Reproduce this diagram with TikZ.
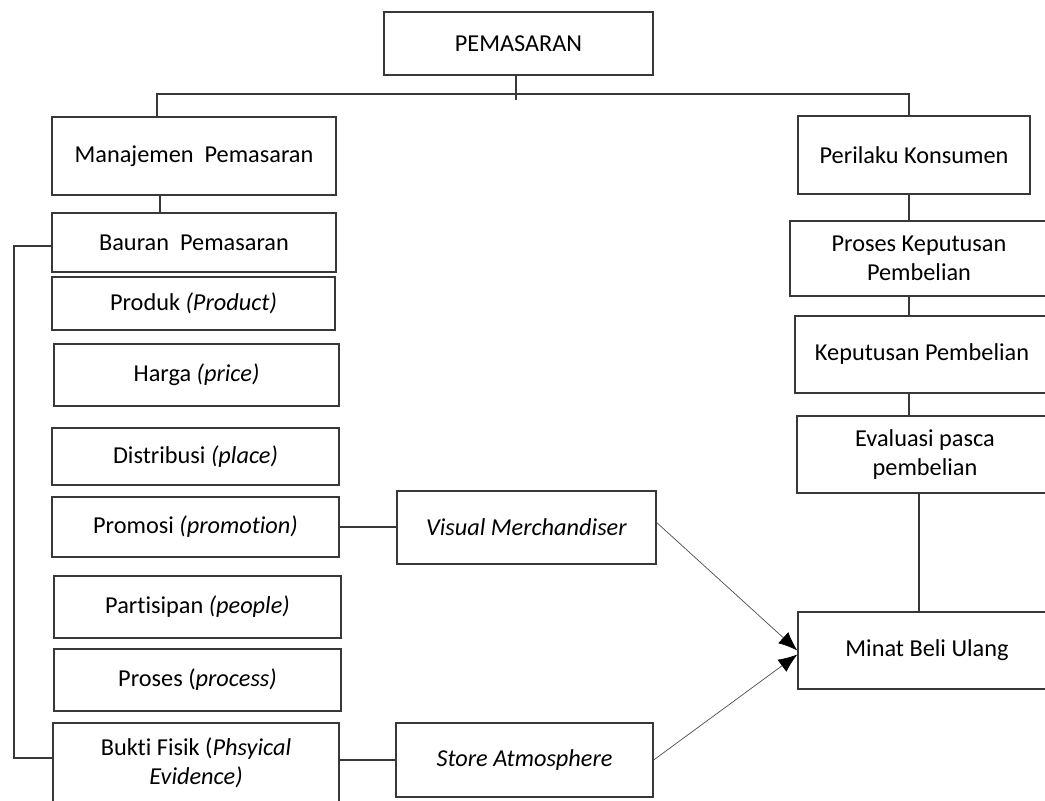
\documentclass[tikz,border=0pt]{standalone}
\usepackage{fontspec}
\setmainfont{Carlito}[Ligatures={NoCommon}]
\usetikzlibrary{arrows.meta}
\begin{document}
\begin{tikzpicture}[x=1pt,y=-1pt,
  box/.style={draw=black!78,line width=1.3pt,rectangle,inner sep=0pt,align=center,
    font=\fontsize{24.3}{28.5}\selectfont},
  link/.style={draw=black!78,line width=1.3pt},
  arr/.style={draw=black!70,line width=0.7pt,-{Latex[length=19pt,width=15pt,color=black]}}]
\useasboundingbox (0,0) rectangle (1045,801);
\clip (0,0) rectangle (1045,801);
% nodes
\node[box,minimum width=269pt,minimum height=63pt] (pem) at (518.5,43.5) {PEMASARAN};
\node[box,minimum width=284pt,minimum height=78pt] (man) at (194,156) {Manajemen~ Pemasaran};
\node[box,minimum width=284pt,minimum height=59pt] (bau) at (194,242.5) {Bauran~ Pemasaran};
\node[box,minimum width=283pt,minimum height=53pt] (prod) at (193.5,303.5) {Produk \textit{(Product)}};
\node[box,minimum width=285pt,minimum height=62pt] (harga) at (196.5,375) {Harga \textit{(price)}};
\node[box,minimum width=287pt,minimum height=57pt] (dist) at (195.5,456.5) {Distribusi \textit{(place)}};
\node[box,minimum width=287pt,minimum height=60pt] (prom) at (195.5,527) {Promosi \textit{(promotion)}};
\node[box,minimum width=287pt,minimum height=62pt] (part) at (197.5,607) {Partisipan \textit{(people)}};
\node[box,minimum width=287pt,minimum height=62pt] (pros) at (197.5,680) {Proses (\textit{process)}};
\node[box,minimum width=286pt,minimum height=80pt] (bukti) at (196,763) {Bukti Fisik (\textit{Phsyical}\\\textit{Evidence)}};
\node[box,minimum width=259pt,minimum height=73pt] (visual) at (526.5,527.5) {\textit{Visual Merchandiser}};
\node[box,minimum width=257pt,minimum height=74pt] (store) at (524.5,760) {\textit{Store Atmosphere}};
\node[box,minimum width=232pt,minimum height=78pt] (per) at (914,155) {Perilaku Konsumen};
\node[box,minimum width=258pt,minimum height=75pt] (pkp) at (919,258.5) {Proses Keputusan\\Pembelian};
\node[box,minimum width=254pt,minimum height=77pt] (kp) at (922,354.5) {Keputusan Pembelian};
\node[box,minimum width=256pt,minimum height=77pt] (eval) at (925,454.5) {Evaluasi pasca\\pembelian};
\node[box,minimum width=258pt,minimum height=77pt] (minat) at (927,650.5) {Minat Beli Ulang};
% coordinates
\coordinate (hl) at (157,94);
\coordinate (hr) at (909,94);
\coordinate (tk) at (516,100);
\coordinate (cm) at (160,200);
\coordinate (br1) at (14,246);
\coordinate (br2) at (14,758);
\coordinate (cr) at (909,200);
\coordinate (ce) at (919,500);
% connectors
\draw[link] (man.north -| hl) -- (hl) -- (hr) -- (per.north -| hr);
\draw[link] (pem.south -| tk) -- (tk);
\draw[link] (man.south -| cm) -- (bau.north -| cm);
\draw[link] (bau.west |- br1) -- (br1) -- (br2) -- (bukti.west |- br2);
\draw[link] (prom.east) -- (prom.east -| visual.west);
\draw[link] (store.west -| bukti.east) -- (store.west);
\draw[link] (per.south -| cr) -- (pkp.north -| cr);
\draw[link] (pkp.south -| cr) -- (kp.north -| cr);
\draw[link] (kp.south -| cr) -- (eval.north -| cr);
\draw[link] (eval.south -| ce) -- (minat.north -| ce);
\draw[arr] ([yshift=5pt]visual.east) -- (minat.west);
\draw[arr] (store.east) -- ([yshift=-4pt]minat.west);
\end{tikzpicture}
\end{document}
